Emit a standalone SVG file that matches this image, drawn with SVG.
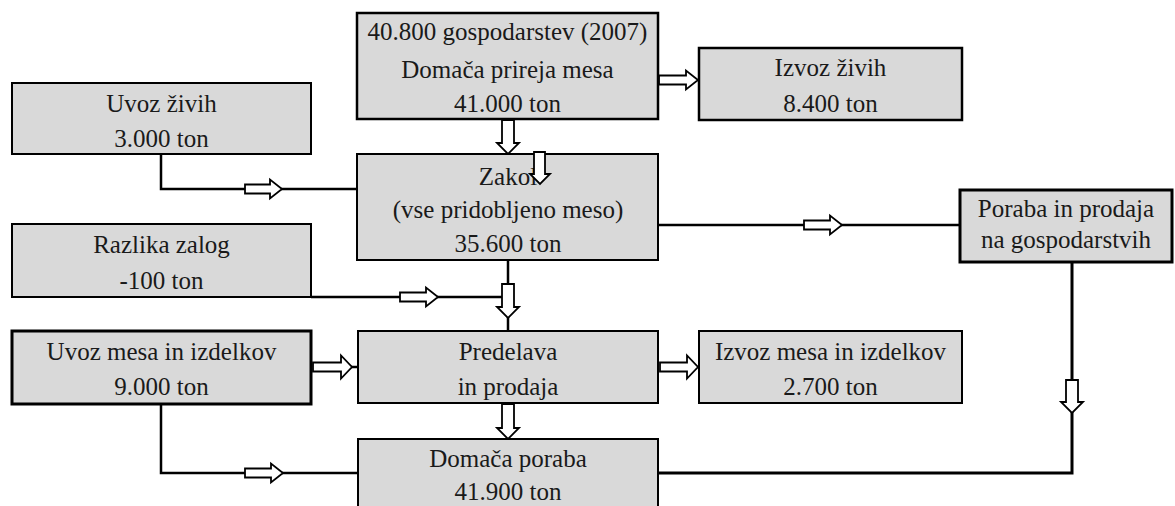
<svg xmlns="http://www.w3.org/2000/svg" width="1175" height="506" viewBox="0 0 1175 506">
<style>
.box{fill:#d9d9d9;stroke:#000;stroke-width:2}
.thick{stroke-width:3}
.t{font-size:25px;fill:#1a1a1a;text-anchor:middle}
.ln{fill:none;stroke:#000;stroke-width:2.5}
.ar{fill:#fff;stroke:#000;stroke-width:1.8;stroke-linejoin:miter}
</style>
<rect width="1175" height="506" fill="#fff"/>
<g id="connectors">
<path class="ln" d="M161,154 V189 H357"/>
<path class="ln" d="M658,225 H960"/>
<path class="ln" d="M508,260 V331"/>
<path class="ln" d="M311,297 H502"/>
<path class="ln" d="M350,367 H358"/>
<path class="ln" d="M161,404 V473 H358"/>
<path class="ln" d="M1072,262 V473 H658" style="stroke-width:3"/>
<path class="ar" d="M245,184.5 H270 V179.5 L282,189 L270,198.5 V193.5 H245 Z"/>
<path class="ar" d="M659,75.5 H686 V70.5 L698,80 L686,89.5 V84.5 H659 Z"/>
<path class="ar" d="M502,120 V143 H497 L508,154 L519,143 H514 V120 Z"/>
<path class="ar" d="M804,220.5 H830 V215.5 L842,225 L830,234.5 V229.5 H804 Z"/>
<path class="ar" d="M502,284 V307 H497 L508,318 L519,307 H514 V284 Z"/>
<path class="ar" d="M400,292.5 H426 V287.5 L438,297 L426,306.5 V301.5 H400 Z"/>
<path class="ar" d="M313,362.5 H341 V355.5 L352,367 L341,378.5 V371.5 H313 Z"/>
<path class="ar" d="M660,362.5 H687 V355.5 L698,367 L687,378.5 V371.5 H660 Z"/>
<path class="ar" d="M502,404 V428 H497 L508,439 L519,428 H514 V404 Z"/>
<path class="ar" d="M1066,380 V402 H1061 L1072,413 L1083,402 H1078 V380 Z"/>
<path class="ar" d="M245,468.5 H271 V463.5 L283,473 L271,482.5 V477.5 H245 Z"/>
</g>
<g font-family="'Liberation Serif', 'DejaVu Serif', 'Times New Roman', serif">
<g id="uvoz-zivih">
<rect class="box" x="12" y="83" width="299" height="71"/>
<text class="t" x="161.5" y="112">Uvoz živih</text>
<text class="t" x="161.5" y="147">3.000 ton</text>
</g>
<g id="domaca-prireja">
<rect class="box" x="357" y="13" width="301" height="106" style="stroke-width:2.5"/>
<text class="t" x="507.5" y="40">40.800 gospodarstev (2007)</text>
<text class="t" x="507.5" y="78">Domača prireja mesa</text>
<text class="t" x="507.5" y="112">41.000 ton</text>
</g>
<g id="izvoz-zivih">
<rect class="box" x="699" y="48" width="263" height="72" style="stroke-width:2.5"/>
<text class="t" x="830.5" y="76">Izvoz živih</text>
<text class="t" x="830.5" y="112">8.400 ton</text>
</g>
<g id="zakol">
<rect class="box" x="357" y="154" width="301" height="106"/>
<text class="t" x="508" y="185">Zakol</text>
<text class="t" x="508" y="218">(vse pridobljeno meso)</text>
<text class="t" x="508" y="252">35.600 ton</text>
<path class="ar" d="M534,152 V174 H530 L540,184 L550,174 H545 V152 Z"/>
</g>
<g id="poraba-prodaja">
<rect class="box thick" x="960" y="190" width="212" height="72"/>
<text class="t" x="1066" y="217">Poraba in prodaja</text>
<text class="t" x="1066" y="248">na gospodarstvih</text>
</g>
<g id="razlika-zalog">
<rect class="box" x="12" y="224" width="299" height="73"/>
<text class="t" x="161.5" y="253">Razlika zalog</text>
<text class="t" x="161.5" y="289">-100 ton</text>
</g>
<g id="uvoz-mesa">
<rect class="box thick" x="12" y="331" width="299" height="73"/>
<text class="t" x="161.5" y="360">Uvoz mesa in izdelkov</text>
<text class="t" x="161.5" y="395">9.000 ton</text>
</g>
<g id="predelava">
<rect class="box" x="358" y="331" width="300" height="72"/>
<text class="t" x="508" y="360">Predelava</text>
<text class="t" x="508" y="395">in prodaja</text>
</g>
<g id="izvoz-mesa">
<rect class="box" x="699" y="331" width="263" height="72"/>
<text class="t" x="830.5" y="360">Izvoz mesa in izdelkov</text>
<text class="t" x="830.5" y="395">2.700 ton</text>
</g>
<g id="domaca-poraba">
<rect class="box" x="358" y="439" width="300" height="80"/>
<text class="t" x="508" y="467">Domača poraba</text>
<text class="t" x="508" y="500">41.900 ton</text>
</g>
</g>
</svg>
